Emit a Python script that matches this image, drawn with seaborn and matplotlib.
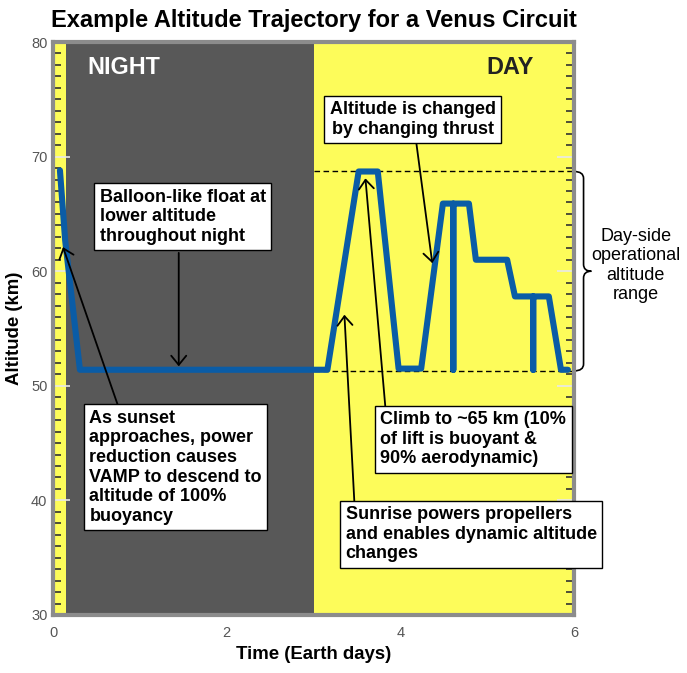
import matplotlib
matplotlib.use('Agg')
import matplotlib.pyplot as plt
from matplotlib import font_manager
from matplotlib.path import Path
from matplotlib.patches import PathPatch
from matplotlib.ticker import MultipleLocator
import pandas as pd
import seaborn as sns

# trajectory (Earth days, km)
time_days = [0.08, 0.14, 0.31, 3.16, 3.52, 3.74, 3.98, 4.24, 4.49, 4.61, 4.61, 4.61,
             4.79, 4.87, 5.23, 5.32, 5.53, 5.53, 5.53, 5.71, 5.85, 5.93]
altitude_km = [68.8, 62.7, 51.4, 51.4, 68.7, 68.7, 51.5, 51.5, 65.9, 65.9, 51.4, 65.9,
               65.9, 61.0, 61.0, 57.8, 57.8, 51.4, 57.8, 57.8, 51.4, 51.4]

night_span = [0.15, 3.0]          # dark band (days)
day_range = [51.3, 68.7]          # dashed operational limits (km)
x_ticks = [0, 2, 4, 6]
y_ticks = [30, 40, 50, 60, 70, 80]

df = pd.DataFrame({'time': time_days, 'alt': altitude_km})

sns.set_theme(style='white')
plt.rcParams['font.family'] = ['Liberation Sans', 'DejaVu Sans']
plt.rcParams['text.color'] = 'black'
plt.rcParams['axes.labelcolor'] = 'black'

names = {f.name for f in font_manager.fontManager.ttflist}
if 'Liberation Sans Narrow' in names:
    head_font = ['Liberation Sans Narrow', 'Liberation Sans']
    k = 1.0
    k_title = 1.0
else:
    head_font = ['Liberation Sans', 'DejaVu Sans']
    k = 0.84
    k_title = 0.97

fig = plt.figure(figsize=(6.87, 6.73), dpi=100)
ax = fig.add_axes([53 / 687, 1 - 615 / 673, 521 / 687, 573 / 673])

yellow = '#fdfc5a'
dark = '#585858'
blue = '#0a5ca6'

ax.set_facecolor(yellow)
ax.axvspan(night_span[0], night_span[1], color=dark, lw=0, zorder=0)

ax.hlines(day_range, night_span[1], 6, colors='black', linestyles=(0, (4, 2.5)),
          lw=1, zorder=1)

sns.lineplot(data=df, x='time', y='alt', sort=False, estimator=None, color=blue,
             lw=4.4, ax=ax, zorder=2)

ax.set_xlim(0, 6)
ax.set_ylim(30, 80)
ax.set_xticks(x_ticks)
ax.set_yticks(y_ticks)
ax.yaxis.set_minor_locator(MultipleLocator(1))
ax.tick_params(axis='y', which='minor', direction='in', length=6, width=1.2,
               color='#303030', left=True, right=True)
ax.tick_params(axis='y', which='major', direction='in', length=12, width=1.2,
               color='#e8e8e8', left=True, right=True, labelsize=10.5,
               labelcolor='#555555', pad=4)
ax.tick_params(axis='x', length=0, pad=8, labelsize=10.5, labelcolor='#555555')
for s in ax.spines.values():
    s.set_color('#8c8c8c')
    s.set_linewidth(3)

ax.set_xlabel('Time (Earth days)', fontsize=16 * k, fontweight='bold',
              family=head_font, labelpad=4)
ax.set_ylabel('Altitude (km)', fontsize=16 * k, fontweight='bold',
              family=head_font, labelpad=6)
fig.text(0.4565, 1 - 20 / 673, 'Example Altitude Trajectory for a Venus Circuit',
         ha='center', va='center', fontsize=17.5 * k_title, fontweight='bold',
         family=head_font)

ax.text(0.40, 77.8, 'NIGHT', color='white', fontsize=20 * k, fontweight='bold',
        family=head_font, ha='left', va='center')
ax.text(5.54, 77.8, 'DAY', color='#222222', fontsize=20 * k, fontweight='bold',
        family=head_font, ha='right', va='center')

box = dict(boxstyle='square,pad=0.3', fc='white', ec='black', lw=1)
arrow = dict(arrowstyle='->,head_length=0.55,head_width=0.45', color='black',
             lw=1.3, mutation_scale=12, shrinkA=0, shrinkB=0)

notes = [
    ('Balloon-like float at\nlower altitude\nthroughout night', (0.54, 67.2), 'left',
     (1.448, 61.6), (1.448, 51.7)),
    ('As sunset\napproaches, power\nreduction causes\nVAMP to descend to\n'
     'altitude of 100%\nbuoyancy', (0.42, 47.9), 'left', (0.747, 48.3), (0.115, 62.1)),
    ('Climb to ~65 km (10%\nof lift is buoyant &\n90% aerodynamic)', (3.77, 47.8),
     'left', (3.828, 48.1), (3.598, 68.1)),
    ('Sunrise powers propellers\nand enables dynamic altitude\nchanges', (3.37, 39.5),
     'left', (3.471, 39.8), (3.356, 56.2)),
    ('Altitude is changed\nby changing thrust', (4.144, 74.85), 'center',
     (4.184, 71.2), (4.368, 60.7)),
]
for txt, pos, ha, start, tip in notes:
    ax.annotate('', xy=tip, xytext=start, arrowprops=arrow, zorder=5)
    ax.text(pos[0], pos[1], txt, ha=ha, va='top', multialignment=ha, fontsize=13,
            fontweight='bold', bbox=box, zorder=6, clip_on=False)

ax.text(6.71, 60.5, 'Day-side\noperational\naltitude\nrange', ha='center',
        va='center', fontsize=13, clip_on=False)

# curly brace beside the axes
x0, x1, x2 = 6.0, 6.11, 6.2
yt, yb = day_range[1], day_range[0]
ym = (yt + yb) / 2
verts = [(x0, yt), (x1, yt), (x1, yt - 0.6), (x1, ym + 0.6), (x1, ym), (x2, ym),
         (x1, ym), (x1, ym - 0.6), (x1, yb + 0.6), (x1, yb), (x0, yb)]
codes = [Path.MOVETO, Path.CURVE3, Path.CURVE3, Path.LINETO, Path.CURVE3, Path.CURVE3,
         Path.CURVE3, Path.CURVE3, Path.LINETO, Path.CURVE3, Path.CURVE3]
ax.add_patch(PathPatch(Path(verts, codes), fc='none', ec='black', lw=1.2,
                       clip_on=False))

fig.savefig('out.png', dpi=100)
